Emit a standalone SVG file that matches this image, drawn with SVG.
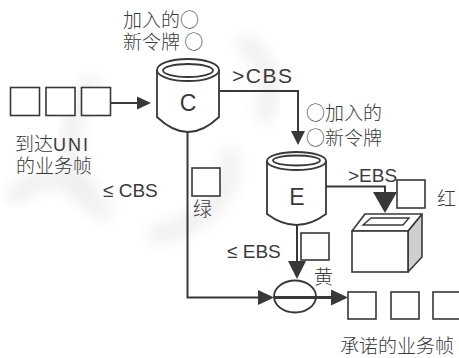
<svg xmlns="http://www.w3.org/2000/svg" width="459" height="358" viewBox="0 0 459 358">
  <defs>
    <filter id="soft" x="-30%" y="-30%" width="160%" height="160%">
      <feGaussianBlur stdDeviation="8"/>
    </filter>
  </defs>
  <style>
    .ln { fill: none; stroke: #383838; stroke-width: 2; }
    .thick { fill: none; stroke: #383838; stroke-width: 3; }
    .ah { fill: #383838; stroke: none; }
    .box { fill: #ffffff; stroke: #383838; stroke-width: 1.6; }
    .cyl { fill: #ffffff; stroke: #383838; stroke-width: 1.8; }
    .cjk { font-family: "Noto Sans CJK SC", sans-serif; font-size: 19px; font-weight: 300; fill: #3a3a3a; }
    .lat { font-family: "Liberation Sans", "DejaVu Sans", sans-serif; fill: #3a3a3a; }
    .wm { fill: none; stroke: #efefef; stroke-width: 18; filter: url(#soft); }
  </style>

  <rect x="0" y="0" width="459" height="358" fill="#ffffff"/>

  <!-- faint background logo -->
  <g id="watermark">
    <path class="wm" d="M95,80 C60,120 60,190 110,215"/>
    <path class="wm" d="M150,235 C200,230 235,195 230,150"/>
    <path class="wm" d="M10,200 C40,170 70,175 90,195"/>
    <path class="wm" d="M240,40 C270,60 280,90 260,120"/>
  </g>

  <!-- connectors -->
  <g id="connectors">
    <!-- arriving frames into bucket C -->
    <line class="ln" x1="110" y1="103" x2="139" y2="103"/>
    <polygon class="ah" points="137,96.5 151,103 137,109.5"/>
    <!-- C overflow (>CBS) into bucket E -->
    <polyline class="ln" points="219,91 298,91 298,133"/>
    <polygon class="ah" points="291,131 305,131 298,145"/>
    <!-- E overflow (>EBS) into discard bin -->
    <polyline class="ln" points="326,186.5 385,186.5 385,194"/>
    <polygon class="ah" points="373,192 397,192 385,213"/>
    <!-- C conforming (green) path -->
    <polyline class="ln" points="187.5,132 187.5,297.5 260,297.5"/>
    <polygon class="ah" points="258,290 274,297.5 258,305"/>
    <!-- E conforming (yellow) path -->
    <line class="ln" x1="297" y1="225" x2="297" y2="263"/>
    <polygon class="ah" points="288,261 306,261 297,279"/>
    <!-- merged output -->
    <line class="thick" x1="274" y1="297.5" x2="333" y2="297.5"/>
    <polygon class="ah" points="331,289.5 348,297.5 331,305.5"/>
  </g>

  <!-- arriving frames -->
  <g id="arrivals">
    <rect class="box" x="10.5" y="87.5" width="29" height="28"/>
    <rect class="box" x="46" y="87.5" width="29" height="28"/>
    <rect class="box" x="81.5" y="87.5" width="29" height="28"/>
    <text class="cjk"><tspan x="15" y="151">到达</tspan><tspan class="lat" font-size="18" letter-spacing="2">UNI</tspan><tspan x="16" y="173">的业务帧</tspan></text>
  </g>

  <!-- bucket C -->
  <g id="bucket-c">
    <path class="cyl" d="M157,70 L157,117 Q188,147 219,117 L219,70"/>
    <ellipse class="cyl" cx="188" cy="70" rx="31" ry="11"/>
    <ellipse class="cyl" cx="188" cy="70.5" rx="25" ry="6.5"/>
    <text class="lat" x="188" y="111" font-size="23" text-anchor="middle">C</text>
    <text class="cjk"><tspan x="123" y="27">加入的○</tspan><tspan x="123" y="49">新令牌 ○</tspan></text>
  </g>

  <!-- bucket E -->
  <g id="bucket-e">
    <path class="cyl" d="M267,161 L267,214 Q296.5,236 326,214 L326,161"/>
    <ellipse class="cyl" cx="296.5" cy="161" rx="29.5" ry="9"/>
    <ellipse class="cyl" cx="296.5" cy="160.5" rx="23.5" ry="5"/>
    <text class="lat" x="297" y="205" font-size="23" text-anchor="middle">E</text>
    <text class="cjk"><tspan x="306" y="120">○加入的</tspan><tspan x="306" y="145">○新令牌</tspan></text>
  </g>

  <!-- labels on the paths -->
  <g id="labels">
    <text class="lat" x="232" y="83" font-size="21" letter-spacing="1.5">&gt;CBS</text>
    <text class="lat" x="348" y="182" font-size="19">&gt;EBS</text>
    <text class="lat" x="103" y="197" font-size="19">≤ CBS</text>
    <text class="lat" x="227" y="258" font-size="19">≤ EBS</text>
  </g>

  <!-- green frame -->
  <g id="green">
    <rect class="box" x="192" y="168" width="28" height="28"/>
    <text class="cjk" x="193" y="216">绿</text>
  </g>

  <!-- yellow frame -->
  <g id="yellow">
    <rect class="box" x="301" y="233" width="28" height="27"/>
    <text class="cjk" x="314" y="284">黄</text>
  </g>

  <!-- red frame and discard bin -->
  <g id="red">
    <rect class="box" x="397" y="180" width="28" height="28"/>
    <text class="cjk" x="437" y="206">红</text>
  </g>
  <g id="discard">
    <polygon points="408,231 422,214 422,257 408,272" fill="#cfcfcf" stroke="#383838" stroke-width="1.6" stroke-linejoin="round"/>
    <polygon points="352,231 365,214 422,214 408,231" fill="#ffffff" stroke="#383838" stroke-width="1.6" stroke-linejoin="round"/>
    <polygon points="363,225 371,218 409,218 403,225" fill="#ffffff" stroke="#383838" stroke-width="1.4"/>
    <rect class="box" x="352" y="231" width="56" height="41"/>
  </g>

  <!-- marker combining both paths -->
  <g id="marker">
    <ellipse cx="295" cy="296.5" rx="21" ry="16" fill="none" stroke="#383838" stroke-width="1.8"/>
    <line class="thick" x1="274" y1="297.5" x2="316" y2="297.5"/>
  </g>

  <!-- committed frames -->
  <g id="committed">
    <rect class="box" x="348" y="292" width="28" height="27"/>
    <rect class="box" x="391" y="292" width="28" height="27"/>
    <rect class="box" x="433" y="292" width="28" height="27"/>
    <text class="cjk" x="340" y="353">承诺的业务帧</text>
  </g>
</svg>
